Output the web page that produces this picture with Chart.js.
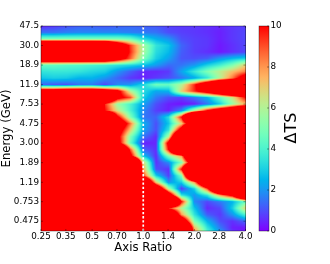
<!DOCTYPE html>
<html>
<head>
<meta charset="utf-8">
<title>Delta TS</title>
<style>
body{margin:0;background:#fff}
canvas{display:block}
</style>
<script src="https://cdn.jsdelivr.net/npm/chart.js@4"></script>
</head>
<body>
<canvas id="grafTS" width="330" height="264"></canvas>
<script>
const axisRatios = [0.25,0.297,0.354,0.42,0.5,0.595,0.707,0.841,1,1.19,1.41,1.68,2,2.38,2.83,3.36,4]
const energies = [47.5,40.7,34.9,30.0,25.7,22.1,18.9,16.2,13.9,11.9,10.2,8.78,7.53,6.46,5.54,4.75,4.07,3.49,3.00,2.57,2.21,1.89,1.62,1.39,1.19,1.02,0.878,0.753,0.646,0.554,0.475,0.407,0.349]
const xTicks = [0.25,0.35,0.5,0.7,1,1.4,2,2.8,4]
const xLabels = ['0.25','0.35','0.5','0.70','1.0','1.4','2.0','2.8','4.0']
const yTicks = [47.5,30,18.9,11.9,7.53,4.75,3,1.89,1.19,0.753,0.475]
const yLabels = ['47.5','30.0','18.9','11.9','7.53','4.75','3.00','1.89','1.19','0.753','0.475']
const tsTicks = [0,2,4,6,8,10]
const refLine = [{x:1,y:0.377},{x:1,y:47.5}]
// one row per energy, top to bottom; red area is over 10, those values are only estimated
const deltaTS = [
[.5,.7,1,1.2,1.2,1.1,1.2,1.3,1.2,1.1,.8,.7,.7,.6,.5,.7,.8],
[1.5,1.5,1.7,1.8,1.8,1.8,1.8,1.7,1.6,1.5,1,.8,.7,.6,.4,.7,.9],
[5,5,5,5,5,5,5,4.6,3.3,2.5,2,1,.8,.7,.4,.7,.9],
[21,21,21,21,21,20,14,9.3,5.8,3.5,2.8,1.3,.8,.7,.3,.6,.9],
[21,21,21,21,21,20,14,9.5,5.8,3.3,2.6,1.2,.8,.6,.3,.6,.9],
[15,15,15,15,15,15,12,8.8,5,3,2.2,1.1,1,1.2,2,2.6,3],
[4.5,4.5,4.3,4.2,4,3.8,3.5,3.2,2.8,2.1,1.4,1.5,2,3,3.8,5,7],
[3.5,3.6,3.6,3.5,3.2,3,2,1.2,.5,.5,.7,2.2,3.6,5,6.2,7.3,8.4],
[2.8,3,2.9,2.5,2.5,2,1.3,.7,.4,.7,1,1.5,2.3,3.5,6,8.5,12],
[1.3,1.1,1,1.5,1.6,.9,1.8,2,3.2,4.7,4.5,6,9.5,14,18,18,18],
[13,13,14,14,14,13,11,6,3.3,2.3,2.5,7,9.5,12,15,18,18],
[20,20,20,20,20,18,11,9,3,1.6,1,.8,1.5,2.5,4.5,6.5,10],
[25,25,25,25,25,9.5,5.5,4,2.2,1,.4,.2,.4,1.5,3,5.5,7.5],
[25,25,25,25,25,10,6.5,4,1.8,.8,.4,1.8,6,10,13,15,18],
[25,25,25,25,25,22,10.5,5,1.5,1.3,3.3,10,25,25,25,25,25],
[25,25,25,25,25,25,14,8.5,2.5,1,2.8,7,15,25,25,25,25],
[25,25,25,25,25,25,12,7,2.2,1,3.5,12,25,25,25,25,25],
[25,25,25,25,25,25,11,5,1.5,.5,6,20,25,25,25,25,25],
[25,25,25,25,25,18,11.5,4.5,.4,.5,11,25,25,25,25,25,25],
[25,25,25,25,25,25,20,9,1.3,.6,10,25,25,25,25,25,25],
[25,25,25,25,25,25,25,11,2.8,.5,5,8,20,25,25,25,25],
[25,25,25,25,25,25,25,25,7,.6,1.8,5,14,25,25,25,25],
[25,25,25,25,25,25,25,25,8,1,.6,10,25,25,25,25,25],
[25,25,25,25,25,25,25,25,9.5,3,.8,5,22,25,25,25,25],
[25,25,25,25,25,25,25,25,18,7,2,3,8,18,25,25,25],
[25,25,25,25,25,25,25,25,25,15,6,.7,3,9,20,25,25],
[25,25,25,25,25,25,25,25,25,25,13,3.5,2,3.5,8,11,20],
[25,25,25,25,25,25,25,25,25,25,25,10,1.8,.9,1.6,2.5,4.5],
[25,25,25,25,25,25,25,25,25,25,9.5,6,2.8,.5,.9,3,7],
[25,25,25,25,25,25,25,25,25,25,18,8,3.5,1.2,.7,2,4],
[25,25,25,25,25,25,25,25,25,25,25,14,5,2.5,1,.6,1.3],
[25,25,25,25,25,25,25,25,25,25,25,22,7.5,3.5,1.6,.4,.3],
[25,25,25,25,25,25,25,25,25,25,25,25,9,4.5,2.3,.8,.2]
]

// same as the rainbow colormap
function rainbow(t){
    t = Math.max(0,Math.min(1,t))
    return [
        255*Math.min(1,Math.abs(2*t-0.5)),
        255*Math.sin(Math.PI*t),
        255*Math.cos(Math.PI*t/2)
    ]
}

const heatmap = {
    id:'heatmap',
    beforeDatasetsDraw(chart){
        const {ctx,chartArea:a,scales} = chart
        const w = Math.round(a.right-a.left), h = Math.round(a.bottom-a.top)
        const off = document.createElement('canvas')
        off.width = w; off.height = h
        const octx = off.getContext('2d')
        const img = octx.createImageData(w,h)
        const px = axisRatios.map(v=>scales.x.getPixelForValue(v))
        const py = energies.map(v=>scales.y.getPixelForValue(v))
        for(let j=0;j<h;j++){
            const yy = a.top+j+0.5
            let r = 0
            while(r<py.length-2 && py[r+1]<yy) r++
            const fy = Math.max(0,Math.min(1,(yy-py[r])/(py[r+1]-py[r])))
            for(let i=0;i<w;i++){
                const xx = a.left+i+0.5
                let c = 0
                while(c<px.length-2 && px[c+1]<xx) c++
                const fx = Math.max(0,Math.min(1,(xx-px[c])/(px[c+1]-px[c])))
                const top = deltaTS[r][c]*(1-fx)+deltaTS[r][c+1]*fx
                const bot = deltaTS[r+1][c]*(1-fx)+deltaTS[r+1][c+1]*fx
                const col = rainbow((top*(1-fy)+bot*fy)/10)
                const k = (j*w+i)*4
                img.data[k]=col[0]; img.data[k+1]=col[1]; img.data[k+2]=col[2]; img.data[k+3]=255
            }
        }
        octx.putImageData(img,0,0)
        ctx.drawImage(off,a.left,a.top,a.right-a.left,a.bottom-a.top)
    },
    afterDatasetsDraw(chart){
        const {ctx,chartArea:a,scales} = chart
        ctx.save()
        ctx.strokeStyle = 'rgba(0,0,0,0.75)'
        ctx.lineWidth = 0.5
        ctx.strokeRect(a.left,a.top,a.right-a.left,a.bottom-a.top)
        ctx.beginPath()
        xTicks.forEach(v=>{
            const p = scales.x.getPixelForValue(v)
            ctx.moveTo(p,a.bottom); ctx.lineTo(p,a.bottom-2)
            ctx.moveTo(p,a.top); ctx.lineTo(p,a.top+2)
        })
        yTicks.forEach(v=>{
            const p = scales.y.getPixelForValue(v)
            ctx.moveTo(a.left,p); ctx.lineTo(a.left+2,p)
            ctx.moveTo(a.right,p); ctx.lineTo(a.right-2,p)
        })
        ctx.stroke()

        // colorbar
        const left = 259, right = 269, sc = scales.ts
        const top = sc.getPixelForValue(10), bot = sc.getPixelForValue(0)
        const grad = ctx.createLinearGradient(0,bot,0,top)
        for(let s=0;s<=32;s++){
            const c = rainbow(s/32)
            grad.addColorStop(s/32,'rgb('+c.map(Math.round).join(',')+')')
        }
        ctx.fillStyle = grad
        ctx.fillRect(left,top,right-left,bot-top)
        ctx.strokeRect(left,top,right-left,bot-top)
        ctx.beginPath()
        tsTicks.forEach(v=>{
            const p = sc.getPixelForValue(v)
            ctx.moveTo(right,p); ctx.lineTo(right-2,p)
        })
        ctx.stroke()

        ctx.translate(296,128)
        ctx.rotate(-Math.PI/2)
        ctx.fillStyle = '#000'
        ctx.font = '16px "DejaVu Sans"'
        ctx.textAlign = 'center'
        ctx.textBaseline = 'alphabetic'
        ctx.fillText('ΔTS',0,0)
        ctx.restore()
    }
}

const tickFont = {family:'"DejaVu Sans"',size:8.8}
const titleFont = {family:'"DejaVu Sans"',size:11.7}

new Chart(document.getElementById('grafTS'),{
    type:'scatter',
    plugins:[heatmap],
    data:{
        datasets:[{
            data:refLine,
            showLine:true,
            borderColor:'#fff',
            borderWidth:1.7,
            borderDash:[2.3,1.9],
            pointRadius:0,
        }]
    },
    options:{
        responsive:false,
        animation:false,
        layout:{padding:{top:26,left:0,right:0,bottom:9.5}},
        plugins:{legend:{display:false},tooltip:{enabled:false}},
        scales:{
            x:{
                type:'logarithmic',
                min:0.25,
                max:4,
                grid:{display:false,drawTicks:false},
                border:{display:false},
                afterBuildTicks:s=>{s.ticks = xTicks.map(v=>({value:v}))},
                afterFit:s=>{s.height = 23.5},
                ticks:{
                    autoSkip:false,
                    maxRotation:0,
                    padding:0,
                    color:'#000',
                    font:tickFont,
                    callback:(v,i)=>xLabels[i],
                },
                title:{display:true,text:'Axis Ratio',color:'#000',font:titleFont,padding:{top:1,bottom:0}},
            },
            y:{
                type:'logarithmic',
                min:0.377,
                max:47.5,
                grid:{display:false,drawTicks:false},
                border:{display:false},
                afterBuildTicks:s=>{s.ticks = yTicks.map(v=>({value:v}))},
                afterFit:s=>{s.width = 41},
                ticks:{
                    autoSkip:false,
                    padding:2,
                    color:'#000',
                    font:tickFont,
                    callback:(v,i)=>yLabels[i],
                },
                title:{display:true,text:'Energy (GeV)',color:'#000',font:titleFont,padding:{top:0,bottom:0}},
            },
            ts:{
                type:'linear',
                axis:'y',
                position:'right',
                min:0,
                max:10,
                grid:{display:false,drawTicks:false},
                border:{display:false},
                afterBuildTicks:s=>{s.ticks = tsTicks.map(v=>({value:v}))},
                afterFit:s=>{
                    s.width = 84.5
                    s.paddingTop = 5
                    s.paddingBottom = 5
                },
                ticks:{
                    padding:25,
                    color:'#000',
                    font:tickFont,
                },
            },
        },
    },
})
</script>
</body>
</html>
